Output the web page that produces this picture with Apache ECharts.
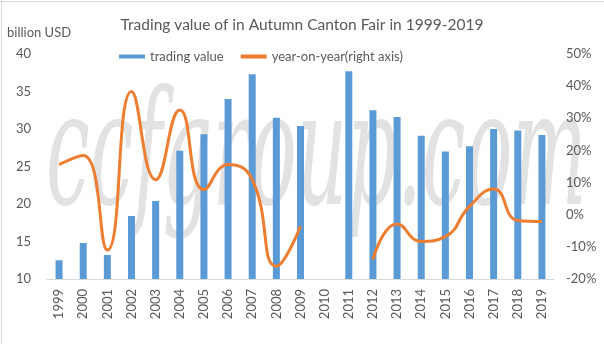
<!DOCTYPE html>
<html>
<head>
<meta charset="utf-8">
<script src="https://cdn.jsdelivr.net/npm/echarts@6/dist/echarts.min.js"></script>
<style>
html,body{margin:0;padding:0;background:#fff;}
#main{width:604px;height:344px;}
</style>
</head>
<body>
<div id="main"></div>
<script>
var years = ['1999','2000','2001','2002','2003','2004','2005','2006','2007','2008','2009','2010','2011','2012','2013','2014','2015','2016','2017','2018','2019'];
var tradingValue = [12.5,14.8,13.2,18.4,20.4,27.1,29.3,34.0,37.3,31.5,30.4,null,37.7,32.5,31.6,29.1,27.0,27.7,30.0,29.8,29.2];
var yoy = [15.6,18.4,-11.0,38.3,10.9,32.6,7.8,15.6,11.0,-16.0,-3.6,null,null,-13.9,-2.9,-8.3,-6.8,2.6,8.0,-1.8,-2.1];
var leftTicks = {min:10, max:40, interval:5};
var rightTicks = {min:-20, max:50, interval:10};

var FONT = 'Lato';
var TXT = '#595959';
var chart = echarts.init(document.getElementById('main'));
chart.setOption({
  animation:false,
  backgroundColor:'#fff',
  textStyle:{fontFamily:FONT},
  title:{
    text:'Trading value of in Autumn Canton Fair in 1999-2019',
    left:'center', top:12,
    textStyle:{fontFamily:FONT,fontSize:15.5,fontWeight:'normal',color:TXT}
  },
  graphic:[
    {type:'line',z:100,shape:{x1:0,y1:1.5,x2:604,y2:1.5},style:{stroke:'#d9d9d9',lineWidth:1}},
    {type:'line',z:100,shape:{x1:1.5,y1:0,x2:1.5,y2:344},style:{stroke:'#d9d9d9',lineWidth:1}},
    {type:'text',left:7,top:26,style:{text:'billion USD',fontFamily:FONT,fontSize:13,fill:TXT}},
    {type:'text',z:-10,x:46,y:84,scaleX:0.71,scaleY:1.44,
      style:{text:'ccfgroup.com',fontFamily:'DejaVu Serif',fontStyle:'italic',fontSize:110,fill:'rgba(185,185,185,0.42)'}}
  ],
  legend:{
    left:114, top:45, itemWidth:26, itemHeight:4, itemGap:17,
    textStyle:{fontFamily:FONT,fontSize:13,color:TXT},
    data:[{name:'trading value',icon:'rect'},{name:'year-on-year(right axis)',icon:'rect'}]
  },
  grid:{left:47,right:50,top:54,bottom:65},
  xAxis:{
    type:'category', data:years, boundaryGap:true,
    axisLine:{onZero:false,lineStyle:{color:'#d9d9d9'}},
    axisTick:{show:false},
    axisLabel:{rotate:90,margin:10,fontSize:13,color:TXT,fontFamily:FONT,interval:0}
  },
  yAxis:[
    {type:'value',min:leftTicks.min,max:leftTicks.max,interval:leftTicks.interval,
     axisLine:{show:false},axisTick:{show:false},splitLine:{show:false},
     axisLabel:{margin:16,fontSize:13,color:TXT,fontFamily:FONT}},
    {type:'value',min:rightTicks.min,max:rightTicks.max,interval:rightTicks.interval,position:'right',
     axisLine:{show:false},axisTick:{show:false},splitLine:{show:false},
     axisLabel:{margin:12,fontSize:13,color:TXT,fontFamily:FONT,formatter:'{value}%'}}
  ],
  series:[
    {name:'trading value',type:'bar',data:tradingValue,barWidth:7,yAxisIndex:0,
     itemStyle:{color:'#5B9BD5'}},
    {name:'year-on-year(right axis)',type:'line',data:yoy,yAxisIndex:1,smooth:0.5,
     symbol:'none',connectNulls:false,lineStyle:{color:'#ED7D31',width:3},itemStyle:{color:'#ED7D31'}}
  ]
});
</script>
</body>
</html>
